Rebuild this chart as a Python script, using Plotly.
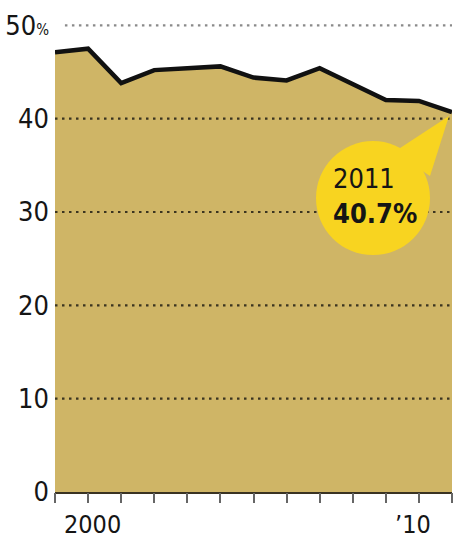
import plotly.graph_objects as go

years = list(range(2000, 2013))
share = [47.1, 47.5, 43.8, 45.2, 45.4, 45.6, 44.4, 44.1, 45.4, 43.7, 42.0, 41.9, 40.7]
y_ticks = [0, 10, 20, 30, 40, 50]
y_labels = ["0", "10", "20", "30", "40", "50<span style='font-size:15px'>%</span>"]
x_label_years = [2000, 2010]
x_labels = ["2000", "\u201910"]
callout_year = "2011"
callout_value = "40.7%"

FONT = "DejaVu Sans Condensed, Roboto, sans-serif"
FILL = "#CFB566"
YELLOW = "#F8D420"

fig = go.Figure()
fig.add_trace(go.Scatter(
    x=years, y=share, mode="lines", fill="tozeroy", fillcolor=FILL,
    line=dict(color="#111111", width=4.5), hoverinfo="skip", showlegend=False,
))

shapes = []
for v in y_ticks[1:]:
    shapes.append(dict(
        type="line", xref="paper", yref="y", x0=0.025 if v == 50 else 0, x1=1, y0=v, y1=v,
        line=dict(color="#8a8a8a" if v == 50 else "#3b3420", width=2.2, dash="2.5px,4.5px"),
        layer="above",
    ))
for yr in x_label_years:
    shapes.append(dict(
        type="line", xref="x", yref="y", xsizemode="pixel", ysizemode="pixel",
        xanchor=yr, yanchor=0, x0=0, x1=0, y0=0, y1=-32,
        line=dict(color="#555555", width=2), layer="above",
    ))
last_x, last_y = years[-1], share[-1]
shapes.append(dict(
    type="path", xref="x", yref="y", xsizemode="pixel", ysizemode="pixel",
    xanchor=last_x, yanchor=last_y,
    path="M -3,-4 L -58,-40 L -22,-64 Z",
    fillcolor=YELLOW, line=dict(width=0), layer="above",
))
shapes.append(dict(
    type="circle", xref="x", yref="y", xsizemode="pixel", ysizemode="pixel",
    xanchor=last_x, yanchor=last_y,
    x0=-136, x1=-22, y0=-143, y1=-29,
    fillcolor=YELLOW, line=dict(width=0), layer="above",
))

annotations = [
    dict(x=last_x, y=last_y, xref="x", yref="y", xshift=-121, yshift=-84,
         text=f"{callout_year}<br><b>{callout_value}</b>", showarrow=False,
         xanchor="left", yanchor="middle", align="left",
         font=dict(family=FONT, size=27, color="#151515")),
]
for yr, lab in zip(x_label_years, x_labels):
    annotations.append(dict(
        x=yr, y=0, xref="x", yref="y", xshift=7, yshift=-16, text=lab, showarrow=False,
        xanchor="left", yanchor="top", font=dict(family=FONT, size=25, color="#151515"),
    ))

fig.update_layout(
    width=454, height=542, margin=dict(l=55, r=2, t=10, b=50),
    paper_bgcolor="white", plot_bgcolor="white",
    shapes=shapes, annotations=annotations,
    xaxis=dict(range=[years[0], years[-1]], tickvals=years, showticklabels=False,
               ticks="outside", ticklen=10, tickwidth=2, tickcolor="#666666",
               showgrid=False, zeroline=False, showline=False, fixedrange=True,
               automargin=False),
    yaxis=dict(range=[0, 51.64], tickvals=y_ticks, ticktext=y_labels, showgrid=False,
               zeroline=True, zerolinecolor="#3a3322", zerolinewidth=2.5,
               ticks="", ticklabelstandoff=5, showline=False, layer="above traces",
               tickfont=dict(family=FONT, size=27, color="#151515"), fixedrange=True,
               automargin=False),
)

fig.write_html(
    "out.html",
    config={"displayModeBar": False},
    post_script="document.body.style.margin='0';document.body.style.overflow='hidden';",
)
